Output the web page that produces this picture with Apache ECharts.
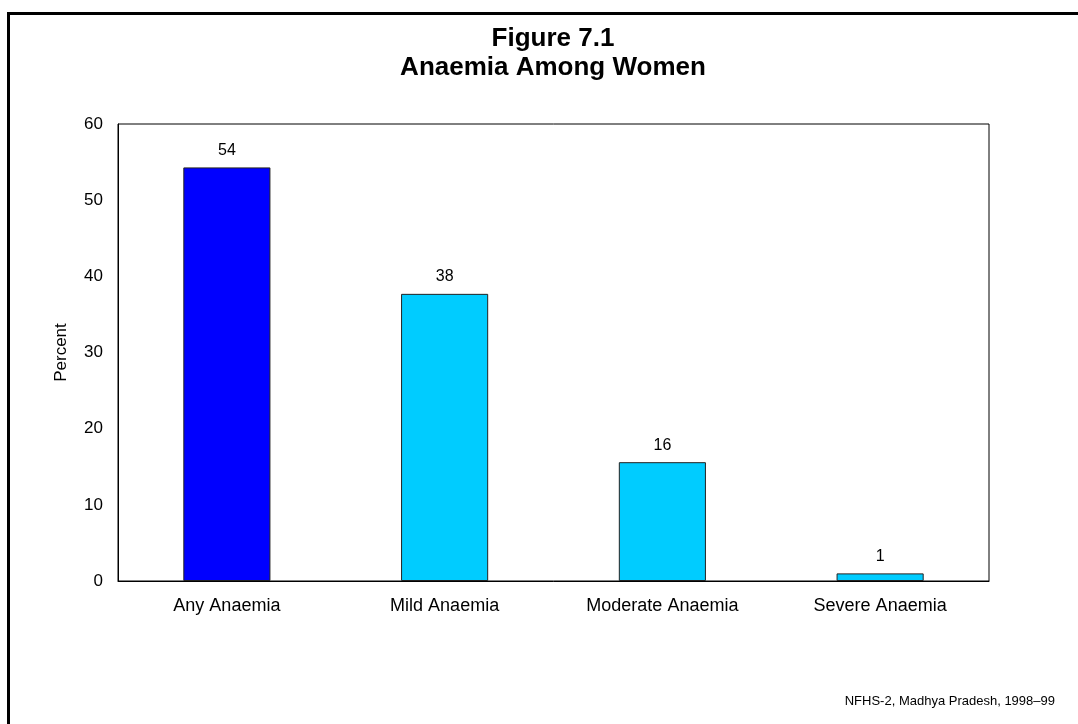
<!DOCTYPE html>
<html>
  <head>
    <meta charset="utf-8" />
    <script src="https://cdn.jsdelivr.net/npm/echarts@6.0.0/dist/echarts.min.js"></script>
    <style>
      html, body { margin: 0; padding: 0; background: #fff; }
    </style>
  </head>
  <body>
    <div id="main" style="width: 1078px; height: 724px"></div>

    <script type="text/javascript">
      // chart data
      var categories = ["Any Anaemia", "Mild Anaemia", "Moderate Anaemia", "Severe Anaemia"];
      var percents = [54.3, 37.7, 15.6, 1.0];
      var barColors = ["#0000ff", "#00ccff", "#00ccff", "#00ccff"];
      var yTicks = { min: 0, max: 60, interval: 10 };

      var font = "Liberation Sans, Arial, sans-serif";
      var myChart = echarts.init(document.getElementById("main"));

      var option = {
        animation: false,
        backgroundColor: "#fff",
        title: {
          text: "Figure 7.1\nAnaemia Among Women",
          left: 548,
          top: 19,
          textAlign: "center",
          textStyle: {
            fontFamily: font,
            fontWeight: "bold",
            fontSize: 26,
            lineHeight: 29,
            color: "#000",
          },
        },
        graphic: [
          {
            // outer frame, only top/left fall inside the picture
            type: "rect",
            shape: { x: 8.5, y: 13.5, width: 1200, height: 900 },
            style: { fill: "none", stroke: "#000", lineWidth: 3 },
            silent: true,
          },
          {
            type: "text",
            right: 23,
            top: 695,
            style: {
              text: "NFHS-2, Madhya Pradesh, 1998\u201399",
              font: "13px " + font,
              fill: "#000",
            },
          },
        ],
        grid: {
          left: 118,
          right: 89,
          top: 124,
          bottom: 143,
          show: true,
          borderColor: "#000",
          borderWidth: 1,
        },
        xAxis: {
          type: "category",
          data: categories,
          axisLine: { lineStyle: { color: "#000", width: 1 } },
          axisTick: { show: false },
          axisLabel: { margin: 16, fontFamily: font, fontSize: 18, color: "#000" },
        },
        yAxis: {
          type: "value",
          min: yTicks.min,
          max: yTicks.max,
          interval: yTicks.interval,
          name: "Percent",
          nameLocation: "middle",
          nameGap: 48,
          nameTextStyle: { fontFamily: font, fontSize: 17, color: "#000" },
          axisLine: { show: true, lineStyle: { color: "#000", width: 1 } },
          axisTick: { show: false },
          splitLine: { show: false },
          axisLabel: { margin: 15, fontFamily: font, fontSize: 17, color: "#000" },
        },
        series: [
          {
            type: "bar",
            barWidth: "40%",
            data: percents.map(function (v, i) {
              return { value: v, itemStyle: { color: barColors[i] } };
            }),
            itemStyle: { borderColor: "#222", borderWidth: 1 },
            label: {
              show: true,
              position: "top",
              distance: 9,
              fontFamily: font,
              fontSize: 16,
              color: "#000",
              formatter: function (p) {
                return Math.round(p.value);
              },
            },
          },
        ],
      };

      myChart.setOption(option);
    </script>
  </body>
</html>
